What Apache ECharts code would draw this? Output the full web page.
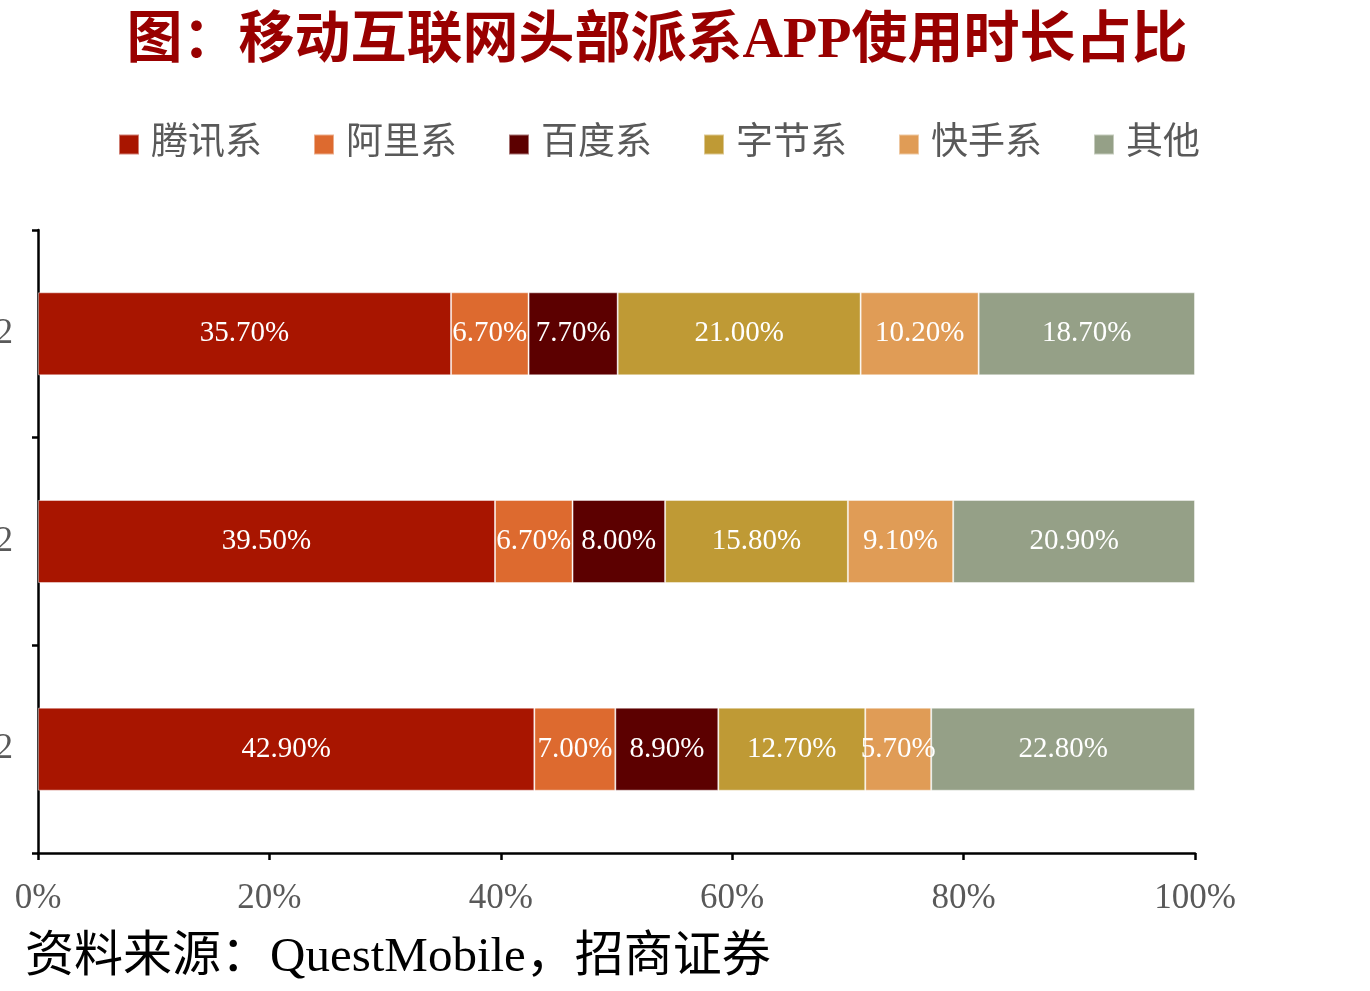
<!DOCTYPE html>
<html lang="zh">
  <head>
    <meta charset="UTF-8" />
    <title>移动互联网头部派系APP使用时长占比</title>
    <script src="https://cdn.jsdelivr.net/npm/echarts@6/dist/echarts.min.js"></script>
    <style>
      html, body { margin: 0; padding: 0; background: #fff; }
      #main { width: 1370px; height: 991px; }
    </style>
  </head>
  <body>
    <div id="main"></div>
    <script>
      // 数据（自下而上）
      var periods = ["2019.12", "2020.12", "2021.12"];
      var names = ["腾讯系", "阿里系", "百度系", "字节系", "快手系", "其他"];
      var tencent = [42.9, 39.5, 35.7];
      var alibaba = [7.0, 6.7, 6.7];
      var baidu = [8.9, 8.0, 7.7];
      var bytedance = [12.7, 15.8, 21.0];
      var kuaishou = [5.7, 9.1, 10.2];
      var others = [22.8, 20.9, 18.7];
      var xTicks = [0, 20, 40, 60, 80, 100];

      var colors = ["#a81500", "#dd6a2f", "#5c0000", "#bf9a35", "#e09c56", "#95a087"];
      var serif = '"Liberation Serif", "Noto Sans CJK SC", serif';
      var values = [tencent, alibaba, baidu, bytedance, kuaishou, others];

      var myChart = echarts.init(document.getElementById("main"));

      var series = names.map(function (name, i) {
        return {
          name: name,
          type: "bar",
          stack: "total",
          barWidth: "40%",
          itemStyle: {
            color: colors[i],
            borderColor: "rgba(255,255,255,0.45)",
            borderWidth: 1
          },
          label: {
            show: true,
            position: "inside",
            color: "#fff",
            fontFamily: serif,
            fontSize: 29,
            formatter: function (p) {
              return p.value.toFixed(2) + "%";
            }
          },
          data: values[i]
        };
      });

      var option = {
        animation: false,
        color: colors,
        title: {
          text: "图：移动互联网头部派系APP使用时长占比",
          left: 652,
          textAlign: "center",
          top: 10,
          textStyle: {
            color: "#990000",
            fontFamily: serif,
            fontWeight: "bold",
            fontSize: 56
          }
        },
        legend: {
          data: names,
          left: 113,
          top: 121,
          icon: "rect",
          itemWidth: 20,
          itemHeight: 20,
          itemGap: 51,
          textStyle: {
            color: "#595959",
            fontFamily: serif,
            fontSize: 37,
            padding: [0, 0, 0, 7]
          }
        },
        grid: {
          left: 38,
          right: 175,
          top: 230,
          bottom: 138,
          containLabel: false,
          outerBoundsMode: "none"
        },
        xAxis: {
          type: "value",
          min: 0,
          max: 100,
          interval: 20,
          splitLine: { show: false },
          axisLine: { show: true, lineStyle: { color: "#000", width: 2.5 } },
          axisTick: { show: true, length: 7, lineStyle: { color: "#000", width: 2.5 } },
          axisLabel: {
            color: "#595959",
            fontFamily: serif,
            fontSize: 35,
            margin: 28,
            formatter: function (v) {
              return xTicks.indexOf(v) >= 0 ? v + "%" : "";
            }
          }
        },
        yAxis: {
          type: "category",
          data: periods,
          axisLine: { show: true, lineStyle: { color: "#000", width: 2.5 } },
          axisTick: { show: true, length: 6, lineStyle: { color: "#000", width: 2.5 } },
          axisLabel: {
            color: "#595959",
            fontFamily: serif,
            fontSize: 35,
            margin: 25
          }
        },
        graphic: [
          {
            type: "text",
            left: 25,
            top: 934,
            style: {
              text: "资料来源：QuestMobile，招商证券",
              fill: "#000",
              font: '49px "Liberation Serif", "Noto Sans CJK SC", serif'
            }
          }
        ],
        series: series
      };

      myChart.setOption(option);
    </script>
  </body>
</html>
